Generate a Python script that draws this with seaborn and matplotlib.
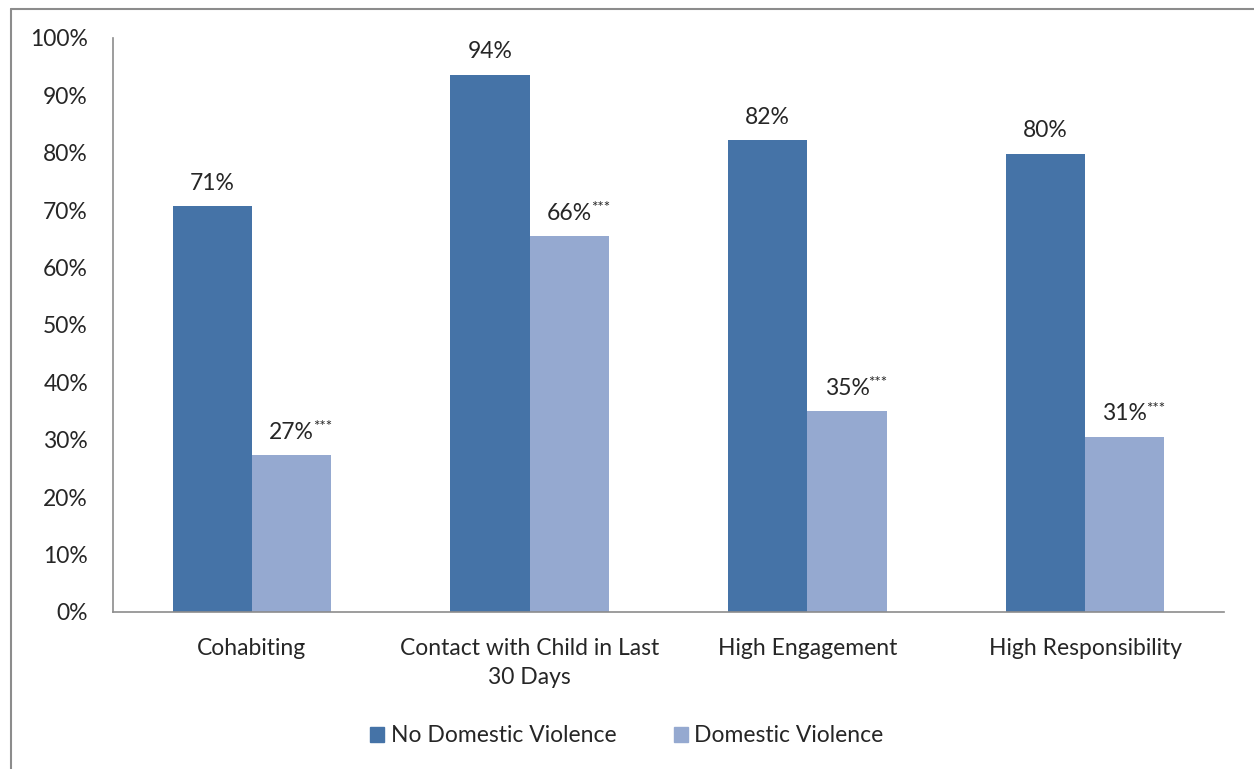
import numpy as np
import pandas as pd
import matplotlib.pyplot as plt
import seaborn as sns

# Values (percent)
categories = ['Cohabiting', 'Contact with Child in Last\n30 Days', 'High Engagement', 'High Responsibility']
no_dv = [70.7, 93.6, 82.2, 79.8]
dv = [27.3, 65.5, 35.0, 30.5]
no_dv_labels = ['71%', '94%', '82%', '80%']
dv_labels = ['27%', '66%', '35%', '31%']
y_ticks = [0, 10, 20, 30, 40, 50, 60, 70, 80, 90, 100]

df = pd.DataFrame({
    'category': categories * 2,
    'value': no_dv + dv,
    'group': ['No Domestic Violence'] * 4 + ['Domestic Violence'] * 4,
})

sns.set_style('white')
plt.rcParams['font.family'] = ['Lato', 'DejaVu Sans']

fig = plt.figure(figsize=(12.54, 7.69), dpi=100)
ax = fig.add_axes([0.0901, 0.2042, 0.886, 0.7464])

sns.barplot(data=df, x='category', y='value', hue='group',
            palette=['#4573A7', '#95A9D0'], width=0.57, gap=0,
            saturation=1, linewidth=0, ax=ax)

ax.set_ylim(0, 100)
ax.set_xlim(-0.5, 3.5)
ax.set_yticks(y_ticks)
ax.set_yticklabels([f'{t}%' for t in y_ticks], fontsize=16.5)
ax.tick_params(axis='y', length=0, pad=18)
ax.set_xticks(range(len(categories)))
ax.set_xticklabels(categories, fontsize=16.5, linespacing=1.45)
ax.tick_params(axis='x', length=0, pad=19)
ax.set_xlabel('')
ax.set_ylabel('')
for s in ['top', 'right']:
    ax.spines[s].set_visible(False)
for s in ['left', 'bottom']:
    ax.spines[s].set_color('#8c8c8c')
    ax.spines[s].set_linewidth(1.2)

# value labels, with significance stars on the DV bars
for i, cont in enumerate(ax.containers):
    labels = no_dv_labels if i == 0 else dv_labels
    for bar, lab in zip(cont, labels):
        x = bar.get_x() + bar.get_width() / 2
        t = ax.annotate(lab, (x, bar.get_height()), xytext=(0, 9),
                        textcoords='offset points', ha='center', va='bottom',
                        fontsize=16.5)
        if i == 1:
            ax.annotate('***', xy=(0.98, 1.08), xycoords=t, ha='left', va='top',
                        fontsize=11)

ax.get_legend().remove()
handles = [plt.Rectangle((0, 0), 1, 1, color=c) for c in ['#4573A7', '#95A9D0']]
fig.legend(handles, ['No Domestic Violence', 'Domestic Violence'],
           loc='center', bbox_to_anchor=(0.5, 0.043), ncol=2, frameon=False,
           fontsize=16.5, handlelength=0.6, handleheight=0.6, handletextpad=0.3,
           columnspacing=2.5)

# chart border (left and top edges visible in the reference)
fig.add_artist(plt.Line2D([0.009, 0.009], [0, 0.988], color='#8c8c8c', lw=1.5))
fig.add_artist(plt.Line2D([0.009, 1.0], [0.988, 0.988], color='#8c8c8c', lw=1.5))

fig.savefig('out.png', dpi=100)
